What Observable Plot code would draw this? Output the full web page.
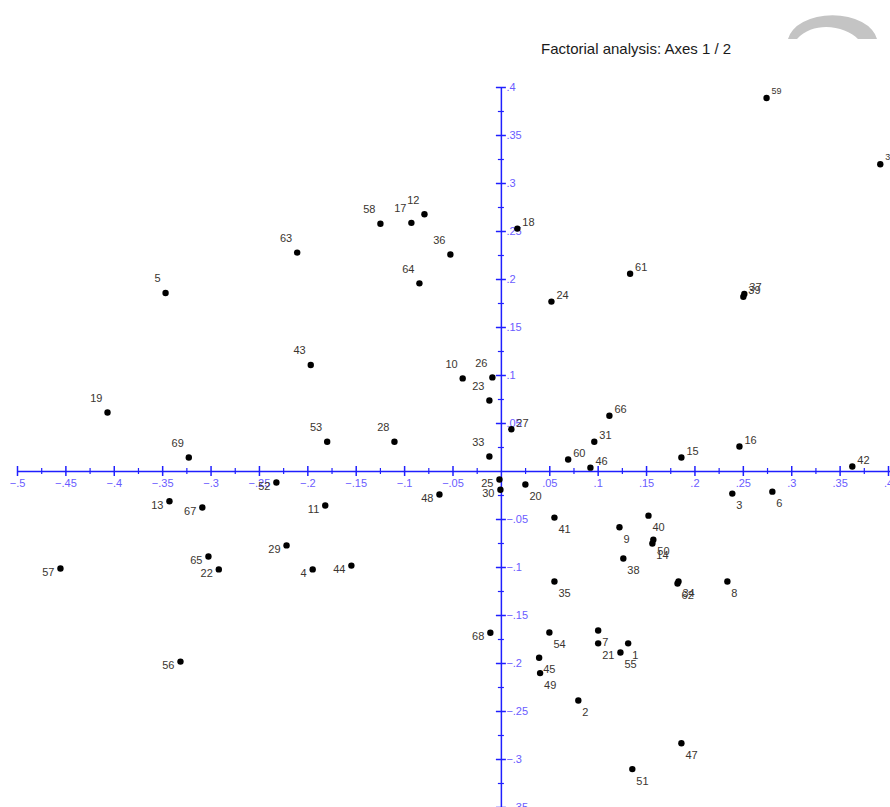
<!DOCTYPE html>
<html><head><meta charset="utf-8">
<script src="https://cdn.jsdelivr.net/npm/d3@7"></script>
<script src="https://cdn.jsdelivr.net/npm/@observablehq/plot@0.6"></script>
<style>
html,body{margin:0;padding:0;background:#fff;overflow:hidden;width:890px;height:807px;}
#wrap{position:relative;width:890px;height:807px;overflow:hidden;}
#title{position:absolute;left:541px;top:40px;font:15px 'Liberation Sans',Arial,sans-serif;color:#1a1a1a;line-height:17px;white-space:nowrap;z-index:2;}
#deco{position:absolute;left:0;top:0;z-index:1;}
#chart{position:absolute;left:0;top:0;}
</style></head>
<body>
<div id="wrap">
<svg id="deco" width="890" height="60"><path d="M788 39 A45 28 0 0 1 877 39 L858 39 C846 26 814 20 797 39 Z" fill="#c4c4c4"/></svg>
<div id="title">Factorial analysis: Axes 1 / 2</div>
<div id="chart"></div>
</div>
<script>
// observation ids and their coordinates on factorial axes 1 (x) and 2 (y)
const ids = [1,2,3,4,5,6,7,8,9,10,11,12,13,14,15,16,17,18,19,20,21,22,23,24,25,26,27,28,29,30,31,32,33,34,35,36,37,38,39,40,41,42,43,44,45,46,47,48,49,50,51,52,53,54,55,56,57,58,59,60,61,62,63,64,65,66,67,68,69];
const axis1 = [0.131,0.0795,0.2386,-0.195,-0.347,0.280,0.100,0.2335,0.122,-0.040,-0.182,-0.0795,-0.343,0.156,0.186,0.246,-0.093,0.0165,-0.407,0.0248,0.100,-0.292,-0.0124,0.0517,-0.002,-0.0093,0.0103,-0.1105,-0.222,-0.001,0.096,0.3915,-0.0124,0.183,0.0548,-0.0527,0.251,0.126,0.250,0.152,0.0548,0.3626,-0.197,-0.155,0.039,0.092,0.186,-0.064,0.040,0.157,0.1353,-0.2325,-0.180,0.0496,0.123,-0.3316,-0.4556,-0.125,0.274,0.069,0.133,0.182,-0.211,-0.0847,-0.3027,0.1116,-0.309,-0.0114,-0.323];
const axis2 = [-0.179,-0.2385,-0.023,-0.102,0.186,-0.021,-0.1656,-0.1146,-0.058,0.097,-0.0354,0.268,-0.031,-0.075,0.0146,0.026,0.259,0.253,0.0615,-0.0135,-0.179,-0.102,0.074,0.177,-0.0083,0.098,0.044,0.031,-0.077,-0.019,0.031,0.320,0.0156,-0.1146,-0.1146,0.226,0.185,-0.0906,0.182,-0.046,-0.048,0.0052,0.111,-0.098,-0.194,0.004,-0.283,-0.024,-0.210,-0.071,-0.310,-0.0115,0.031,-0.1677,-0.1885,-0.198,-0.101,0.258,0.389,0.0125,0.206,-0.1167,0.228,0.196,-0.0885,0.058,-0.0375,-0.168,0.0146];

// axis ticks
const xTicks = [-0.5,-0.45,-0.4,-0.35,-0.3,-0.25,-0.2,-0.15,-0.1,-0.05,0.05,0.1,0.15,0.2,0.25,0.3,0.35,0.4];
const xMinor = [-0.475,-0.425,-0.375,-0.325,-0.275,-0.225,-0.175,-0.125,-0.075,-0.025,0.025,0.075,0.125,0.175,0.225,0.275,0.325,0.375];
const yTicks = [0.4,0.35,0.3,0.25,0.2,0.15,0.1,0.05,-0.05,-0.1,-0.15,-0.2,-0.25,-0.3,-0.35];
const yMinor = [0.375,0.325,0.275,0.225,0.175,0.125,0.075,0.025,-0.025,-0.075,-0.125,-0.175,-0.225,-0.275,-0.325];

const points = ids.map((id, i) => ({id: String(id), x: axis1[i], y: axis2[i]}));
const fmt = d => d3.format(".2~f")(d).replace("0.", ".");

const AXIS = "#1f1fff", TICKLAB = "#6a5cff", LAB = "#3a3530";
const big = d => d.y <= 0.3;

const chart = Plot.plot({
  width: 890, height: 807,
  marginLeft: 17, marginRight: 2, marginTop: 87, marginBottom: 0,
  x: {domain: [-0.5, 0.4], axis: null},
  y: {domain: [-0.35, 0.4], axis: null},
  style: {fontFamily: "'Liberation Sans', Arial, sans-serif", fontSize: "11px", background: "transparent", overflow: "visible"},
  marks: [
    Plot.ruleY([0], {x1: -0.5, x2: 0.41, stroke: AXIS, strokeWidth: 1.5}),
    Plot.ruleX([0], {y1: -0.36, y2: 0.4, stroke: AXIS, strokeWidth: 1.5}),
    Plot.ruleX(xTicks, {x: d => d, y1: () => 0, y2: () => 0, insetTop: -5, insetBottom: -5, stroke: AXIS, strokeWidth: 1.5}),
    Plot.ruleX(xMinor, {x: d => d, y1: () => 0, y2: () => 0, insetTop: -3, insetBottom: -3, stroke: AXIS, strokeWidth: 1.2}),
    Plot.ruleY(yTicks, {y: d => d, x1: () => 0, x2: () => 0, insetLeft: -5, insetRight: -5, stroke: AXIS, strokeWidth: 1.5}),
    Plot.ruleY(yMinor, {y: d => d, x1: () => 0, x2: () => 0, insetLeft: -3, insetRight: -3, stroke: AXIS, strokeWidth: 1.2}),
    Plot.text(xTicks, {x: d => d, y: () => 0, text: fmt, dy: 12, fill: TICKLAB, textAnchor: "middle"}),
    Plot.text(yTicks, {x: () => 0, y: d => d, text: fmt, dx: 5, fill: TICKLAB, textAnchor: "start"}),
    Plot.dot(points, {x: "x", y: "y", r: 3.2, fill: "black", stroke: "none"}),
    Plot.text(points, {filter: d => d.x >= 0 && d.y >= 0 && big(d), x: "x", y: "y", text: "id", textAnchor: "start", dx: 5, dy: -6, fill: LAB}),
    Plot.text(points, {filter: d => !big(d), x: "x", y: "y", text: "id", textAnchor: "start", dx: 5, dy: -7, fill: LAB, fontSize: 9}),
    Plot.text(points, {filter: d => d.x < 0 && d.y >= 0, x: "x", y: "y", text: "id", textAnchor: "end", dx: -5, dy: -14, fill: LAB}),
    Plot.text(points, {filter: d => d.x < 0 && d.y < 0, x: "x", y: "y", text: "id", textAnchor: "end", dx: -6, dy: 4, fill: LAB}),
    Plot.text(points, {filter: d => d.x >= 0 && d.y < 0, x: "x", y: "y", text: "id", textAnchor: "start", dx: 4, dy: 12, fill: LAB})
  ]
});
document.getElementById("chart").appendChild(chart);
</script>
</body></html>
